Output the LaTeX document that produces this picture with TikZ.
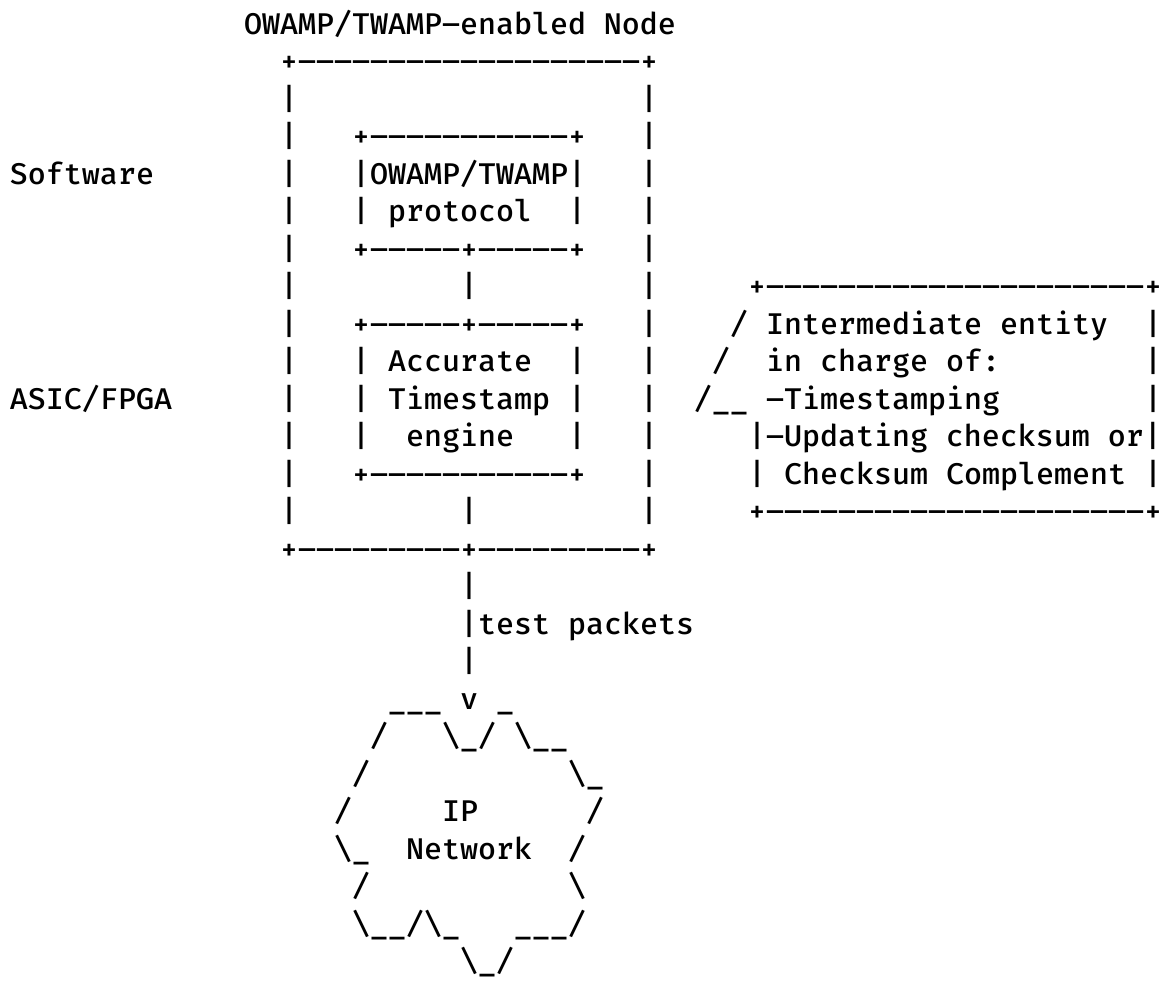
\documentclass[tikz,border=0pt]{standalone}
\usepackage{fontspec}
\setmonofont{Fira Mono}[UprightFont=* Medium]
\usepackage{graphicx}
\usepackage{tikz}
\newcommand\hy{\makebox[0.6em]{\scalebox{1.5}[1]{-}}}
\newcommand\dashes[1]{\foreach \i in {1,...,#1}{\hy}}
\tikzset{
  asc/.style={font=\ttfamily\fontsize{15}{15}\selectfont, anchor=base west, inner sep=0pt, outer sep=0pt}
}
\begin{document}
\begin{tikzpicture}
\useasboundingbox (0,0) rectangle (583pt,-490.5pt);
\begin{scope}[x=9pt,y=-18.75pt,shift={(5pt,-17pt)}]
  % layer labels
  \node[asc] (title) at (13,0) {OWAMP/TWAMP\hy enabled Node};
  \node[asc] (sw) at (0,4) {Software};
  \node[asc] (hw) at (0,10) {ASIC/FPGA};

  % enabled node box
  \node[asc] (nodetop) at (15,1) {+\dashes{19}+};
  \foreach \r in {2,...,13} {
    \node[asc] at (15,\r) {|};
    \node[asc] at (35,\r) {|};
  }
  \node[asc] (nodebot) at (15,14) {+\dashes{9}+\dashes{9}+};

  % protocol box
  \node[asc] (prottop) at (19,3) {+\dashes{11}+};
  \node[asc] (prot) at (19,4) {|OWAMP/TWAMP|};
  \node[asc] at (19,5) {|};
  \node[asc] (protname) at (21,5) {protocol};
  \node[asc] at (31,5) {|};
  \node[asc] (protbot) at (19,6) {+\dashes{5}+\dashes{5}+};
  \node[asc] (link) at (25,7) {|};

  % timestamp engine box
  \node[asc] (engtop) at (19,8) {+\dashes{5}+\dashes{5}+};
  \foreach \r in {9,10,11} {
    \node[asc] at (19,\r) {|};
    \node[asc] at (31,\r) {|};
  }
  \node[asc] (eng1) at (21,9) {Accurate};
  \node[asc] (eng2) at (21,10) {Timestamp};
  \node[asc] (eng3) at (22,11) {engine};
  \node[asc] (engbot) at (19,12) {+\dashes{11}+};
  \node[asc] (out) at (25,13) {|};

  % intermediate entity callout
  \node[asc] (calltop) at (41,7) {+\dashes{21}+};
  \node[asc] at (40,8) {/};
  \node[asc] at (39,9) {/};
  \node[asc] (callptr) at (38,10) {/\_\_};
  \node[asc] (call1) at (42,8) {Intermediate entity};
  \node[asc] (call2) at (42,9) {in charge of:};
  \node[asc] (call3) at (42,10) {\hy Timestamping};
  \node[asc] (call4) at (41,11) {|\hy Updating checksum or|};
  \node[asc] at (41,12) {|};
  \node[asc] (call5) at (43,12) {Checksum Complement};
  \foreach \r in {8,9,10,12}
    \node[asc] at (63,\r) {|};
  \node[asc] (callbot) at (41,13) {+\dashes{21}+};

  % test packets
  \foreach \r in {15,16,17}
    \node[asc] at (25,\r) {|};
  \node[asc] (tp) at (26,16) {test packets};

  % IP network cloud
  \node[asc] at (21,18) {\_\_\_};
  \node[asc] (arrow) at (25,18) {v};
  \node[asc] at (27,18) {\_};
  \node[asc] at (20,19) {/};
  \node[asc] at (24,19) {\textbackslash\_/};
  \node[asc] at (28,19) {\textbackslash\_\_};
  \node[asc] at (19,20) {/};
  \node[asc] at (31,20) {\textbackslash\_};
  \node[asc] at (18,21) {/};
  \node[asc] (ip1) at (24,21) {IP};
  \node[asc] at (32,21) {/};
  \node[asc] at (18,22) {\textbackslash\_};
  \node[asc] (ip2) at (22,22) {Network};
  \node[asc] at (31,22) {/};
  \node[asc] at (19,23) {/};
  \node[asc] at (31,23) {\textbackslash};
  \node[asc] at (19,24) {\textbackslash\_\_/\textbackslash\_};
  \node[asc] at (28,24) {\_\_\_/};
  \node[asc] at (25,25) {\textbackslash\_/};
\end{scope}
\end{tikzpicture}
\end{document}
